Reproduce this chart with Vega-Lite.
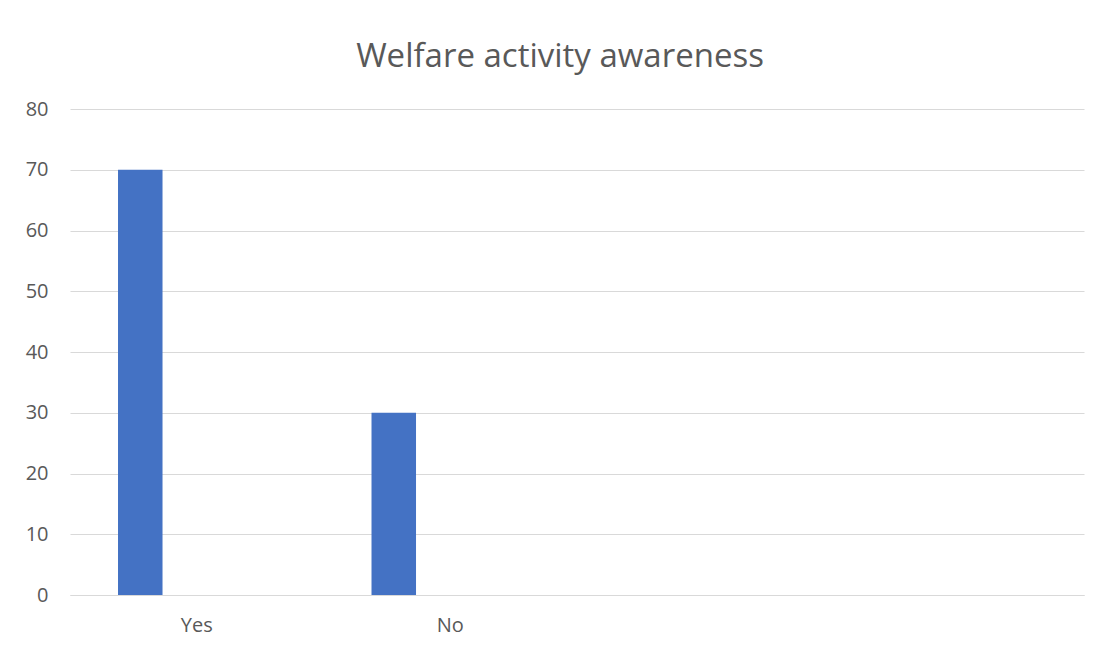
{
  "$schema": "https://vega.github.io/schema/vega-lite/v6.json",
  "width": 1014,
  "height": 486,
  "autosize": {"type": "none"},
  "padding": {"left": 70, "top": 109, "right": 28, "bottom": 55},
  "background": "white",
  "title": {
    "text": "Welfare activity awareness",
    "font": "Open Sans",
    "fontSize": 33,
    "fontWeight": "normal",
    "color": "#595959",
    "anchor": "middle",
    "frame": "group",
    "dx": -17,
    "offset": 25
  },
  "data": {
    "values": [
      {"category": "Yes", "series": "Series1", "value": 70},
      {"category": "No", "series": "Series1", "value": 30}
    ]
  },
  "mark": {"type": "bar", "color": "#4472C4"},
  "encoding": {
    "x": {
      "field": "category",
      "type": "nominal",
      "sort": null,
      "scale": {"domain": ["Yes", "No", "c3", "c4"], "paddingInner": 0, "paddingOuter": 0},
      "axis": {
        "title": null,
        "labelAngle": 0,
        "labelExpr": "datum.value == 'c3' || datum.value == 'c4' ? '' : datum.value",
        "labelFont": "Open Sans",
        "labelFontSize": 20,
        "labelColor": "#595959",
        "labelPadding": 20,
        "ticks": false,
        "domain": true,
        "domainColor": "#d9d9d9",
        "grid": false
      }
    },
    "xOffset": {
      "field": "series",
      "type": "nominal",
      "scale": {"domain": ["Series1", "Series2", "Series3"], "paddingInner": 0.212, "paddingOuter": 0.85}
    },
    "y": {
      "field": "value",
      "type": "quantitative",
      "scale": {"domain": [0, 80]},
      "axis": {
        "title": null,
        "values": [0, 10, 20, 30, 40, 50, 60, 70, 80],
        "labelFont": "Open Sans",
        "labelFontSize": 20,
        "labelColor": "#595959",
        "labelPadding": 22,
        "ticks": false,
        "domain": false,
        "grid": true,
        "gridColor": "#d9d9d9",
        "gridWidth": 1
      }
    }
  },
  "config": {"view": {"stroke": null}}
}
